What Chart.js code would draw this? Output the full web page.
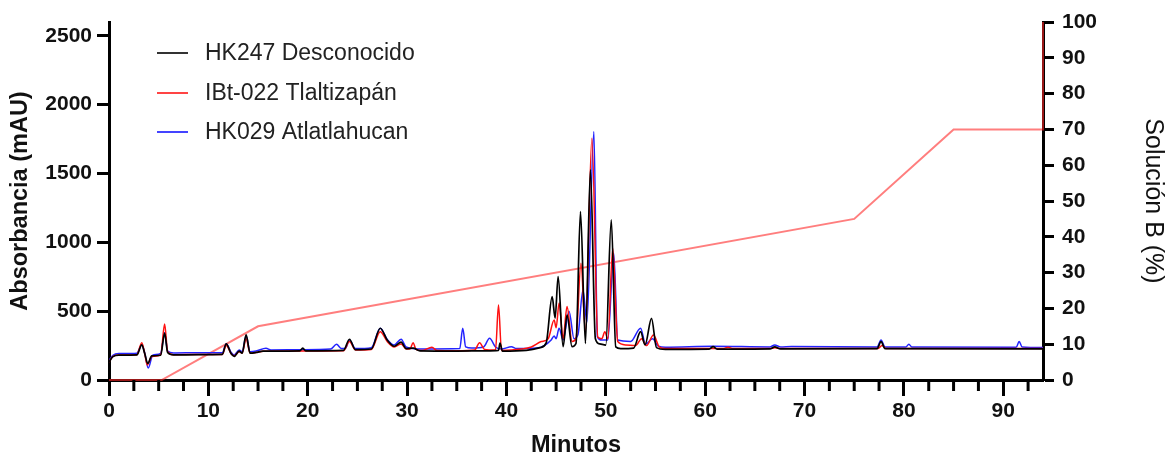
<!DOCTYPE html>
<html>
<head>
<meta charset="utf-8">
<title>Cromatograma</title>
<script src="https://cdn.jsdelivr.net/npm/chart.js"></script>
<style>
  html, body { margin: 0; padding: 0; background: #fff; }
  #wrap { width: 1174px; height: 460px; }
</style>
</head>
<body>
<div id="wrap"><canvas id="chart" width="1174" height="460"></canvas></div>
<script>
// retention times (min) and absorbance (mAU)
const hk247Time = [0, 0.4, 1, 2.8, 3.3, 3.6, 3.9, 4.3, 5.2, 5.6, 5.9, 6.5, 9, 11.4, 11.8, 12.3, 12.6, 13.1, 13.4, 13.8, 14.2, 14.8, 15.5, 19.2, 19.5, 19.8, 23.6, 24.2, 24.8, 26.4, 27.3, 28, 28.7, 29.4, 29.9, 30.6, 31.3, 35, 38, 39.2, 39.35, 39.6, 42, 43.4, 44, 44.6, 44.9, 45.2, 45.7, 46.1, 46.6, 47, 47.45, 47.95, 48.45, 48.95, 49.4, 50, 50.55, 51, 51.5, 52.8, 53.5, 53.95, 54.6, 55.1, 56, 60.4, 60.8, 61.2, 66.5, 67, 67.6, 77.3, 77.7, 78.1, 94];
const hk247Abs = [130, 170, 180, 182, 255, 190, 120, 175, 180, 340, 200, 182, 184, 186, 262, 190, 172, 210, 195, 327, 195, 200, 210, 212, 232, 212, 215, 296, 220, 225, 376, 290, 245, 275, 228, 232, 212, 210, 212, 215, 268, 210, 215, 235, 270, 605, 450, 751, 242, 472, 242, 265, 1223, 266, 1526, 300, 262, 254, 1163, 240, 228, 232, 351, 255, 448, 235, 222, 224, 242, 224, 226, 240, 226, 228, 279, 228, 226];

const ibt022Time = [0, 0.4, 1, 2.8, 3.3, 3.6, 3.85, 4.3, 5.2, 5.6, 5.9, 6.5, 9, 11.4, 11.8, 12.3, 12.6, 13.1, 13.4, 13.8, 14.2, 14.8, 15.5, 19.5, 23.6, 24.2, 24.8, 26.4, 27.3, 28, 28.7, 29.4, 29.9, 30.3, 30.6, 30.9, 31.5, 32.5, 33, 35, 36.8, 37.3, 37.8, 38.9, 39.2, 39.5, 41.5, 42.5, 43.5, 44.2, 44.8, 45, 45.3, 45.7, 46.1, 46.6, 47, 47.5, 47.95, 48.6, 49.2, 49.6, 49.9, 50.2, 50.7, 51.2, 52, 53, 53.6, 54.1, 54.8, 55.4, 56, 61.8, 62.3, 62.8, 66.5, 67, 67.6, 77.4, 77.8, 78.2, 94];
const ibt022Abs = [130, 172, 182, 184, 271, 190, 109, 170, 182, 407, 205, 184, 185, 186, 250, 190, 175, 205, 195, 300, 195, 200, 208, 210, 212, 279, 218, 222, 351, 280, 240, 262, 226, 226, 271, 222, 214, 238, 214, 212, 218, 271, 222, 218, 545, 215, 225, 240, 279, 300, 436, 380, 559, 300, 533, 280, 300, 848, 350, 1756, 310, 300, 351, 300, 957, 279, 255, 250, 300, 250, 327, 238, 228, 228, 238, 228, 228, 234, 228, 228, 250, 228, 228];

const hk029Time = [0, 0.4, 1, 2.8, 3.3, 3.6, 3.95, 4.4, 5.2, 5.6, 5.9, 6.5, 9, 11.4, 11.8, 12.3, 12.6, 13.1, 13.4, 13.8, 14.2, 14.8, 15.8, 16.3, 19.5, 22.3, 22.9, 23.4, 23.8, 24.2, 24.8, 26.4, 27.3, 28, 28.7, 29.4, 29.9, 31.5, 35.3, 35.6, 35.9, 36.5, 37.7, 38.3, 38.9, 39.5, 40.5, 41, 43, 43.8, 44.5, 44.8, 45, 45.3, 45.7, 46.3, 46.8, 47.2, 47.7, 48.1, 48.8, 49.15, 49.6, 50.2, 50.8, 51.2, 52.5, 53.5, 54, 54.7, 55.3, 56, 60.8, 66.5, 67, 67.6, 68.7, 77.3, 77.7, 78.1, 80.2, 80.5, 80.8, 91.3, 91.6, 91.9, 94];
const hk029Abs = [140, 180, 192, 195, 254, 195, 87, 180, 194, 344, 210, 196, 198, 198, 262, 200, 182, 218, 205, 320, 205, 210, 230, 218, 220, 225, 259, 228, 230, 290, 228, 235, 376, 295, 255, 296, 240, 225, 228, 376, 240, 232, 240, 303, 240, 225, 242, 228, 232, 250, 290, 320, 300, 376, 290, 500, 300, 330, 654, 420, 1805, 315, 290, 290, 921, 290, 280, 376, 260, 300, 245, 238, 245, 240, 254, 240, 244, 240, 290, 240, 240, 259, 240, 238, 279, 240, 236];

// gradient program, % of solution B
const gradTime = [0, 5.3, 15, 75, 85, 94, 94];
const gradB = [0, 0, 15, 45, 70, 70, 100];

// tick labels
const minTicks = [0, 10, 20, 30, 40, 50, 60, 70, 80, 90];
const absTicks = [0, 500, 1000, 1500, 2000, 2500];
const pctTicks = [0, 10, 20, 30, 40, 50, 60, 70, 80, 90, 100];

const seriesLabels = ['HK247 Desconocido', 'IBt-022 Tlaltizapán', 'HK029 Atlatlahucan'];
const seriesColors = ['#000000', '#ff1010', '#2323ff'];

const FONT = "'Liberation Sans', Arial, sans-serif";

function pts(xs, ys) {
  return xs.map((x, i) => ({ x: x, y: ys[i] }));
}

// minor ticks on the x axis and the legend drawn inside the plot
const extras = {
  id: 'extras',
  afterDraw(chart) {
    const ctx = chart.ctx;
    const xs = chart.scales.x;
    const area = chart.chartArea;
    ctx.save();
    ctx.strokeStyle = '#000';
    ctx.lineWidth = 3;
    for (let v = 2.5; v < xs.max; v += 2.5) {
      if (v % 10 === 0) continue;
      const px = xs.getPixelForValue(v);
      ctx.beginPath();
      ctx.moveTo(px, area.bottom);
      ctx.lineTo(px, area.bottom + 11);
      ctx.stroke();
    }
    // legend
    const rows = [53, 93, 132];
    ctx.font = '23px ' + FONT;
    ctx.textBaseline = 'middle';
    ctx.textAlign = 'left';
    seriesLabels.forEach((lab, i) => {
      ctx.strokeStyle = ['#333', '#ff4444', '#4444ff'][i];
      ctx.lineWidth = 2;
      ctx.beginPath();
      ctx.moveTo(157, rows[i]);
      ctx.lineTo(188, rows[i]);
      ctx.stroke();
      ctx.fillStyle = '#222';
      ctx.fillText(lab, 205, rows[i] + 1);
    });
    ctx.restore();
  }
};

const tickFont = { family: FONT, size: 21, weight: 'bold' };
const useTicks = list => s => { s.ticks = list.map(v => ({ value: v })); };
const plain = v => String(v);

new Chart(document.getElementById('chart'), {
  type: 'line',
  data: {
    datasets: [
      { label: seriesLabels[0], data: pts(hk247Time, hk247Abs), borderColor: seriesColors[0], borderWidth: 1.7, yAxisID: 'y' },
      { label: seriesLabels[1], data: pts(ibt022Time, ibt022Abs), borderColor: seriesColors[1], borderWidth: 1.5, yAxisID: 'y' },
      { label: seriesLabels[2], data: pts(hk029Time, hk029Abs), borderColor: seriesColors[2], borderWidth: 1.5, yAxisID: 'y' },
      { label: 'Solución B', data: pts(gradTime, gradB), borderColor: 'rgba(255,40,40,0.6)', borderWidth: 2, yAxisID: 'y2', clip: 4, cubicInterpolationMode: 'default' }
    ]
  },
  options: {
    responsive: false,
    animation: false,
    events: [],
    elements: { point: { radius: 0 }, line: { tension: 0, fill: false, cubicInterpolationMode: 'monotone' } },
    layout: { padding: { top: 22, left: 0, right: 0, bottom: 0 } },
    plugins: { legend: { display: false }, tooltip: { enabled: false } },
    scales: {
      x: {
        type: 'linear',
        min: 0,
        max: 94,
        afterBuildTicks: useTicks(minTicks),
        afterFit: s => { s.height = 80; },
        ticks: { color: '#111', font: tickFont, padding: 3, maxRotation: 0, autoSkip: false, callback: plain },
        grid: { drawOnChartArea: false, tickLength: 16, tickWidth: 3, tickColor: '#000' },
        border: { color: '#000', width: 3 },
        title: { display: true, text: 'Minutos', color: '#111', font: { family: FONT, size: 23.5, weight: 'bold' }, padding: { bottom: 0 } }
      },
      y: {
        position: 'left',
        min: 0,
        max: 2600,
        afterBuildTicks: useTicks(absTicks),
        afterFit: s => { s.width = 109; },
        ticks: { color: '#111', font: tickFont, padding: 5, autoSkip: false, callback: plain },
        grid: { drawOnChartArea: false, tickLength: 12, tickWidth: 3, tickColor: '#000' },
        border: { color: '#000', width: 3 },
        title: { display: true, text: 'Absorbancia (mAU)', color: '#111', font: { family: FONT, size: 23.5, weight: 'bold' }, padding: { top: 6 } }
      },
      y2: {
        position: 'right',
        min: 0,
        max: 100,
        afterBuildTicks: useTicks(pctTicks),
        afterFit: s => { s.width = 131; },
        ticks: { color: '#111', font: tickFont, padding: 8, autoSkip: false, callback: plain },
        grid: { drawOnChartArea: false, tickLength: 11, tickWidth: 3, tickColor: '#000' },
        border: { color: '#000', width: 3 },
        title: { display: true, text: 'Solución B (%)', color: '#111', font: { family: FONT, size: 25 }, padding: { top: 6 } }
      }
    }
  },
  plugins: [extras]
});
</script>
</body>
</html>
